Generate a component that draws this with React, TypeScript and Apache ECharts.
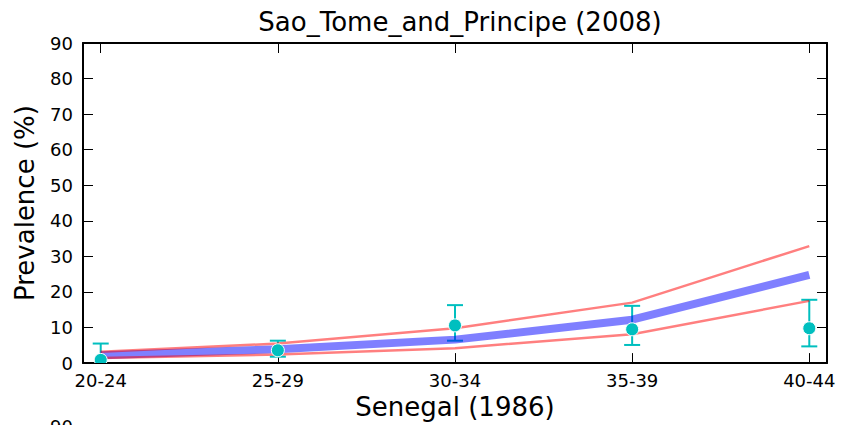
import React, { useEffect, useRef } from "react";
import * as echarts from "echarts";

const categories = ["20-24", "25-29", "30-34", "35-39", "40-44"];
const meanLine = [2.2, 3.9, 6.6, 12.2, 24.8];
const upperLine = [3.2, 5.5, 9.8, 17.0, 32.9];
const lowerLine = [1.4, 2.4, 4.2, 8.1, 17.5];
const obsValue = [0.9, 3.6, 10.6, 9.5, 9.8];
const obsLow = [-3.0, 1.8, 6.3, 5.1, 4.7];
const obsHigh = [5.5, 6.3, 16.3, 16.1, 17.8];

const FONT = "DejaVu Sans";

export default function App() {
  const ref = useRef<HTMLDivElement>(null);
  useEffect(() => {
    if (!ref.current) return;
    const chart = echarts.init(ref.current, null, { renderer: "svg" });
    const idx = categories.map((_, i) => i);
    const toPts = (arr: number[]) => arr.map((v, i) => [i, v]);
    const axisLineStyle = { color: "#000", width: 2 };
    const tickStyle = { color: "#000", width: 1 };
    chart.setOption({
      animation: false,
      backgroundColor: "#fff",
      title: {
        text: "Sao_Tome_and_Principe (2008)",
        left: 455,
        textAlign: "center",
        top: 4,
        textStyle: { fontFamily: FONT, fontSize: 26, fontWeight: "normal", color: "#000" },
      },
      grid: { left: 83, right: 14, top: 43, bottom: 61, containLabel: false },
      xAxis: [
        {
          type: "value",
          min: -0.1,
          max: 4.1,
          position: "bottom",
          name: "Senegal (1986)",
          nameLocation: "middle",
          nameGap: 20,
          nameTextStyle: { fontFamily: FONT, fontSize: 26, color: "#000" },
          axisLine: { show: true, onZero: false, lineStyle: axisLineStyle },
          axisTick: { show: true, inside: true, length: 10, customValues: idx, lineStyle: tickStyle },
          axisLabel: {
            customValues: idx,
            formatter: (v: number) => categories[Math.round(v)] ?? "",
            fontFamily: FONT,
            fontSize: 18,
            color: "#000",
            margin: 8,
          },
          splitLine: { show: false },
        },
        {
          type: "value",
          min: -0.1,
          max: 4.1,
          position: "top",
          axisLine: { show: true, onZero: false, lineStyle: axisLineStyle },
          axisTick: { show: true, inside: true, length: 10, customValues: idx, lineStyle: tickStyle },
          axisLabel: { show: false },
          splitLine: { show: false },
        },
      ],
      yAxis: [
        {
          type: "value",
          min: 0,
          max: 90,
          interval: 10,
          position: "left",
          name: "Prevalence (%)",
          nameLocation: "middle",
          nameGap: 45,
          nameTextStyle: { fontFamily: FONT, fontSize: 26, color: "#000" },
          axisLine: { show: true, onZero: false, lineStyle: axisLineStyle },
          axisTick: { show: true, inside: true, length: 10, lineStyle: tickStyle },
          axisLabel: { fontFamily: FONT, fontSize: 18, color: "#000", margin: 10 },
          splitLine: { show: false },
        },
        {
          type: "value",
          min: 0,
          max: 90,
          interval: 10,
          position: "right",
          axisLine: { show: true, onZero: false, lineStyle: axisLineStyle },
          axisTick: { show: true, inside: true, length: 10, lineStyle: tickStyle },
          axisLabel: { show: false },
          splitLine: { show: false },
        },
      ],
      series: [
        {
          type: "custom",
          clip: true,
          z: 1,
          data: idx.map((i) => [i, obsLow[i], obsHigh[i]]),
          renderItem: (params: any, api: any) => {
            const x = api.value(0);
            const lo = api.coord([x, api.value(1)]);
            const hi = api.coord([x, api.value(2)]);
            const hw = 8;
            const st = { stroke: "#00bfbf", lineWidth: 2 };
            return {
              type: "group",
              children: [
                { type: "line", shape: { x1: lo[0], y1: lo[1], x2: hi[0], y2: hi[1] }, style: st },
                { type: "line", shape: { x1: lo[0] - hw, y1: lo[1], x2: lo[0] + hw, y2: lo[1] }, style: st },
                { type: "line", shape: { x1: hi[0] - hw, y1: hi[1], x2: hi[0] + hw, y2: hi[1] }, style: st },
              ],
            };
          },
        },
        {
          type: "line",
          data: toPts(meanLine),
          symbol: "none",
          z: 2,
          lineStyle: { color: "rgba(0,0,255,0.5)", width: 8 },
        },
        {
          type: "line",
          data: toPts(upperLine),
          symbol: "none",
          z: 3,
          lineStyle: { color: "rgba(255,0,0,0.5)", width: 2.5 },
        },
        {
          type: "line",
          data: toPts(lowerLine),
          symbol: "none",
          z: 3,
          lineStyle: { color: "rgba(255,0,0,0.5)", width: 2.5 },
        },
        {
          type: "custom",
          clip: true,
          z: 4,
          data: toPts(obsValue),
          renderItem: (params: any, api: any) => {
            const c = api.coord([api.value(0), api.value(1)]);
            return {
              type: "circle",
              shape: { cx: c[0], cy: c[1], r: 6.5 },
              style: { fill: "#00bfbf", stroke: "#fff", lineWidth: 1 },
            };
          },
        },
      ],
      graphic: [
        {
          type: "text",
          left: 50,
          top: 417,
          style: { text: "90", fontFamily: FONT, fontSize: 18, fill: "#000" },
        },
      ],
    });
    return () => chart.dispose();
  }, []);
  return (
    <div
      ref={ref}
      style={{ position: "fixed", left: 0, top: 0, width: 841, height: 425 }}
    />
  );
}
